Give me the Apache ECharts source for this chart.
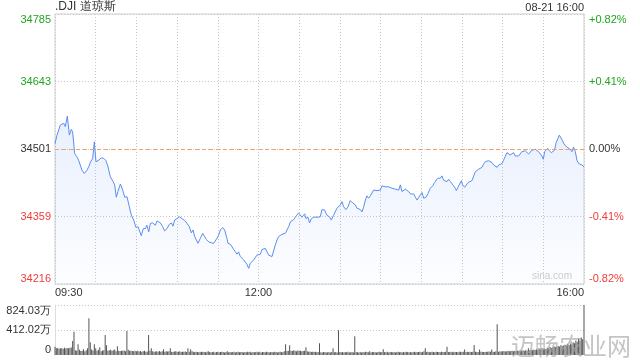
<!DOCTYPE html>
<html><head><meta charset="utf-8">
<script src="https://cdn.jsdelivr.net/npm/echarts/dist/echarts.min.js"></script>
<style>html,body{margin:0;padding:0;background:#fff}#c{width:640px;height:360px}</style>
</head><body><div id="c"></div>
<script>
// ---- data ----
const prevClose = 34500.66;
const halfRange = 284.5;                // price distance from prevClose to axis top/bottom
const priceTickLabels = ['34216', '34359', '34501', '34643', '34785'];
const pctTickLabels = ['-0.82%', '-0.41%', '0.00%', '+0.41%', '+0.82%'];
const tickTone = ['r', 'r', 'k', 'g', 'g'];
const timeTickLabels = { 0: '09:30', 150: '12:00', 390: '16:00' }; // minutes after 09:30
const volTickLabels = ['0', '412.02万', '824.03万'];
const volMax = 824.03;                  // 万

// minutes after 09:30
const lineTimes = [
  0,1.5,2.7,3.9,6.4,7.6,9.1,10.6,12.0,13.0,14.5,16.2,17.4,18.7,19.9,21.6,23.6,24.8,26.3,27.8,
  29.0,30.2,31.7,32.9,34.2,35.9,37.6,39.1,40.8,42.8,44.0,45.2,46.4,48.2,49.9,51.4,53.1,54.8,56.3,58.0,
  59.7,61.2,62.2,63.6,65.1,
  66.6,67.8,69.1,70.3,72.0,74.0,75.2,76.4,77.7,79.4,80.8,82.6,84.3,85.8,87.0,88.2,89.9,91.7,93.6,95.6,
  97.3,99.0,100.5,101.7,103.0,104.2,105.4,107.1,108.9,110.3,111.6,113.3,115.2,117.0,118.2,120.2,121.9,123.6,125.1,126.8,
  127.5,129.3,130.5,
  131.7,133.0,134.2,135.4,136.6,137.9,139.1,140.3,141.5,142.8,144.0,145.2,146.5,147.7,148.9,150.1,151.4,152.6,153.8,155.1,
  156.3,157.5,158.7,160.0,161.2,162.4,163.7,164.9,166.1,167.3,169.8,171.0,172.3,173.5,174.7,176.0,177.2,178.4,179.6,180.9,
  182.1,183.3,184.1,185.0,186.5,187.7,189.0,190.7,191.9,193.9,195.6,
  196.8,198.8,200.5,202.2,203.7,205.4,206.7,207.9,209.1,210.4,211.6,212.8,214.5,216.0,217.7,219.4,221.4,222.6,223.9,225.1,
  226.3,227.6,228.8,230.0,231.2,232.5,233.7,234.9,236.2,237.4,238.6,239.8,241.1,242.3,243.5,244.8,246.0,247.2,248.4,249.7,
  250.9,252.1,253.4,254.6,255.8,257.0,258.3,259.5,260.7,262.0,
  263.2,264.4,265.7,266.9,268.1,269.3,270.6,271.8,272.5,273.5,275.0,276.7,278.4,279.9,280.9,282.4,284.1,285.3,286.5,287.8,
  289.0,290.2,291.5,292.7,293.9,295.1,295.9,297.1,298.1,299.6,300.5,302.0,303.0,304.5,305.5,307.4,308.7,309.9,311.1,312.3,
  313.6,314.8,316.0,317.3,318.5,319.7,320.9,322.2,323.4,324.6,325.9,327.1,328.3,
  329.5,330.7,332.0,333.2,334.4,335.6,336.9,338.1,339.3,340.6,341.8,343.0,344.2,345.5,346.7,347.9,349.2,350.4,351.6,352.8,
  354.1,355.3,356.5,357.8,359.0,360.0,361.0,361.9,363.4,364.4,365.9,366.8,368.3,369.3,370.8,371.8,373.2,374.2,375.7,377.4,
  378.6,379.9,381.1,382.3,383.6,384.8,386.0,387.2,388.5,390
];
const linePrices = [
  34512,34530,34534,34551,34555,34548,34570,34530,34542,34537,34491,34484,34477,34479,34456,34449,34456,34463,34474,34481,
  34516,34474,34476,34472,34482,34481,34476,34463,34442,34432,34425,34399,34411,34427,34414,34399,34400,34379,34361,34351,
  34335,34337,34333,34318,34333,
  34333,34340,34326,34344,34345,34340,34349,34351,34345,34337,34328,34333,34342,34345,34338,34351,34354,34358,34354,34350,
  34344,34337,34324,34330,34316,34312,34302,34312,34323,34319,34310,34305,34303,34302,34305,34316,34330,34335,34330,34312,
  34302,34300,34298,
  34289,34284,34279,34284,34274,34277,34267,34263,34258,34249,34260,34258,34267,34268,34277,34281,34279,34289,34293,34291,
  34289,34277,34279,34274,34275,34298,34309,34316,34319,34321,34323,34326,34337,34347,34351,34352,34357,34358,34366,34364,
  34357,34359,34364,34354,34357,34345,34354,34357,34355,34357,34358,
  34373,34372,34361,34358,34351,34361,34365,34376,34379,34383,34390,34379,34373,34379,34392,34387,34383,34376,34372,34373,
  34368,34379,34393,34402,34397,34402,34404,34414,34411,34413,34416,34414,34423,34425,34421,34424,34421,34423,34418,34421,
  34416,34420,34414,34425,34411,34414,34416,34416,34411,34406,
  34404,34406,34399,34393,34394,34404,34409,34397,34393,34399,34407,34418,34423,34430,34435,34439,34439,34444,34435,34432,
  34432,34437,34432,34428,34423,34418,34413,34420,34421,34434,34425,34420,34416,34430,34432,34434,34444,34453,34451,34458,
  34456,34462,34469,34474,34477,34476,34472,34472,34467,34465,34462,34467,34465,
  34470,34477,34481,34493,34497,34488,34484,34493,34486,34490,34486,34488,34495,34498,34497,34498,34490,34487,34498,34495,
  34500,34498,34495,34491,34486,34479,34495,34498,34502,34497,34493,34495,34498,34513,34523,34530,34528,34518,34509,34505,
  34504,34500,34495,34505,34495,34477,34470,34470,34467,34463
];

// per-minute volume, 万 (minute 0 .. 390)
const volumes = [
  137,110,115,105,110,112,105,118,108,115,
  112,120,125,230,385,80,70,176,85,65,
  72,95,60,80,110,604,209,90,75,176,
  110,70,85,126,60,75,80,330,159,72,
  80,85,70,78,90,60,143,72,65,70,
  68,75,60,395,85,72,70,65,60,68,
  62,70,58,65,55,60,68,52,58,330,
  70,110,62,55,58,60,52,65,55,60,
  93,55,60,58,62,110,55,50,58,60,
  52,55,60,48,55,52,58,50,110,55,
  93,60,52,48,55,50,45,52,48,55,
  50,45,52,60,48,45,50,55,42,48,
  52,45,50,55,48,42,50,60,45,48,
  45,50,52,42,48,55,45,50,48,42,
  50,45,52,48,55,42,50,45,48,52,
  45,55,42,48,50,45,52,48,42,50,
  48,45,52,50,42,48,55,45,50,60,
  176,65,70,159,72,65,80,70,62,75,
  68,72,60,65,70,126,62,55,58,50,
  55,48,52,45,50,192,45,42,48,50,
  40,45,48,42,50,110,45,48,42,406,
  48,45,50,42,48,45,52,40,45,48,
  42,307,48,45,40,50,42,48,45,52,
  48,45,60,42,48,50,45,42,48,55,
  45,50,93,48,45,52,42,48,50,45,
  48,42,50,55,45,48,42,50,45,52,
  48,45,50,42,48,55,45,50,48,52,
  45,50,60,110,48,52,45,50,55,48,
  45,52,48,50,45,55,48,50,52,137,
  50,48,55,45,52,48,50,45,55,52,
  48,55,90,50,52,48,55,50,52,165,
  55,50,48,90,52,55,50,48,55,52,
  58,52,90,55,50,60,505,55,62,58,
  60,65,58,62,70,60,65,68,62,70,
  65,72,68,75,70,78,72,80,75,110,
  78,85,80,90,82,95,88,100,92,110,
  95,105,100,120,110,130,115,125,140,130,
  135,150,140,165,145,155,170,160,180,165,
  190,175,210,195,240,220,275,230,287,260,
  824.03
];

// ---- chart ----
const FONT = 'Liberation Sans, Arial, sans-serif';
const GREEN = '#1fa51f', RED = '#f03c3c', DARK = '#333';
const rich = { g: { color: GREEN }, r: { color: RED }, k: { color: DARK } };
const step = halfRange / 2;
const idxOf = v => Math.round(v / step) + 2;

const lineData = lineTimes.map((t, i) => [t, +(linePrices[i] - prevClose).toFixed(2)]);
const volData = volumes.map((v, i) => [i, v]);

const chart = echarts.init(document.getElementById('c'), null, { renderer: 'canvas' });
chart.setOption({
  animation: false,
  backgroundColor: '#fff',
  textStyle: { fontFamily: FONT },
  grid: [
    { left: 55, top: 14, width: 529, height: 270, show: true, borderColor: '#cfcfcf', borderWidth: 1, backgroundColor: 'transparent' },
    { left: 55, top: 305, width: 529, height: 50, show: false }
  ],
  xAxis: [
    {
      type: 'value', gridIndex: 0, min: 0, max: 390, interval: 30,
      axisLine: { show: false }, axisTick: { show: false },
      splitLine: { show: true, lineStyle: { color: '#c8c8c8', type: [1, 2] } },
      axisLabel: {
        show: true, margin: 3, fontSize: 11, color: DARK, fontFamily: FONT,
        showMinLabel: true, showMaxLabel: true,
        alignMinLabel: 'left', alignMaxLabel: 'right',
        formatter: v => timeTickLabels[Math.round(v)] || ''
      }
    },
    {
      type: 'value', gridIndex: 1, min: 0, max: 390, interval: 30,
      axisLine: { show: false }, axisTick: { show: false }, axisLabel: { show: false },
      splitLine: { show: false }
    }
  ],
  yAxis: [
    {
      type: 'value', gridIndex: 0, min: -halfRange, max: halfRange, interval: step,
      axisLine: { show: false }, axisTick: { show: false },
      splitLine: { show: true, lineStyle: { color: '#c8c8c8', type: [1, 2] } },
      axisLabel: {
        margin: 4, fontSize: 11, fontFamily: FONT,
        verticalAlignMaxLabel: 'top', verticalAlignMinLabel: 'bottom',
        formatter: v => { const i = idxOf(v); return '{' + tickTone[i] + '|' + priceTickLabels[i] + '}'; },
        rich
      }
    },
    {
      type: 'value', gridIndex: 0, position: 'right', min: -halfRange, max: halfRange, interval: step,
      axisLine: { show: false }, axisTick: { show: false }, splitLine: { show: false },
      axisLabel: {
        margin: 5, fontSize: 11, fontFamily: FONT,
        verticalAlignMaxLabel: 'top', verticalAlignMinLabel: 'bottom',
        formatter: v => { const i = idxOf(v); return '{' + tickTone[i] + '|' + pctTickLabels[i] + '}'; },
        rich
      }
    },
    {
      type: 'value', gridIndex: 1, min: 0, max: volMax, interval: volMax / 2,
      axisLine: { show: true, lineStyle: { color: '#dddddd' } }, axisTick: { show: false },
      splitLine: { show: true, showMinLine: false, lineStyle: { color: '#c8c8c8', type: [1, 2] } },
      axisLabel: {
        margin: 4, fontSize: 11, color: DARK, fontFamily: FONT,
        verticalAlignMaxLabel: 'top', verticalAlignMinLabel: 'bottom',
        formatter: v => volTickLabels[Math.round(v / (volMax / 2))]
      }
    }
  ],
  series: [
    {
      type: 'line', xAxisIndex: 0, yAxisIndex: 0, data: lineData,
      showSymbol: false, symbol: 'none', smooth: false,
      lineStyle: { color: '#5b8ef0', width: 1 },
      areaStyle: {
        origin: 'start',
        color: new echarts.graphic.LinearGradient(0, 0, 0, 1, [
          { offset: 0, color: 'rgba(91,142,240,0.20)' },
          { offset: 1, color: 'rgba(91,142,240,0.02)' }
        ])
      },
      markLine: {
        silent: true, symbol: 'none', label: { show: false },
        lineStyle: { color: '#f2a065', type: [4, 3], width: 1 },
        data: [{ yAxis: 0 }]
      },
      z: 3
    },
    {
      type: 'bar', xAxisIndex: 1, yAxisIndex: 2, data: volData,
      barWidth: 1, itemStyle: { color: '#555555' }, z: 2
    }
  ],
  graphic: [
    { type: 'text', left: 55, top: 1, z: 10, style: { text: '.DJI 道琼斯', font: '12px ' + FONT, fill: DARK } },
    { type: 'text', right: 56, top: 2, z: 10, style: { text: '08-21 16:00', font: '11px ' + FONT, fill: DARK } },
    { type: 'text', left: 532, top: 271, z: 10, style: { text: 'sina.com', font: '10px ' + FONT, fill: '#cccccc' } },
    { type: 'text', left: 511, top: 334, z: 20, style: { text: '迈畅农业网', font: '24px "Noto Sans CJK SC", sans-serif', fill: 'rgba(165,165,165,0.65)' } }
  ]
});
</script>
</body></html>
